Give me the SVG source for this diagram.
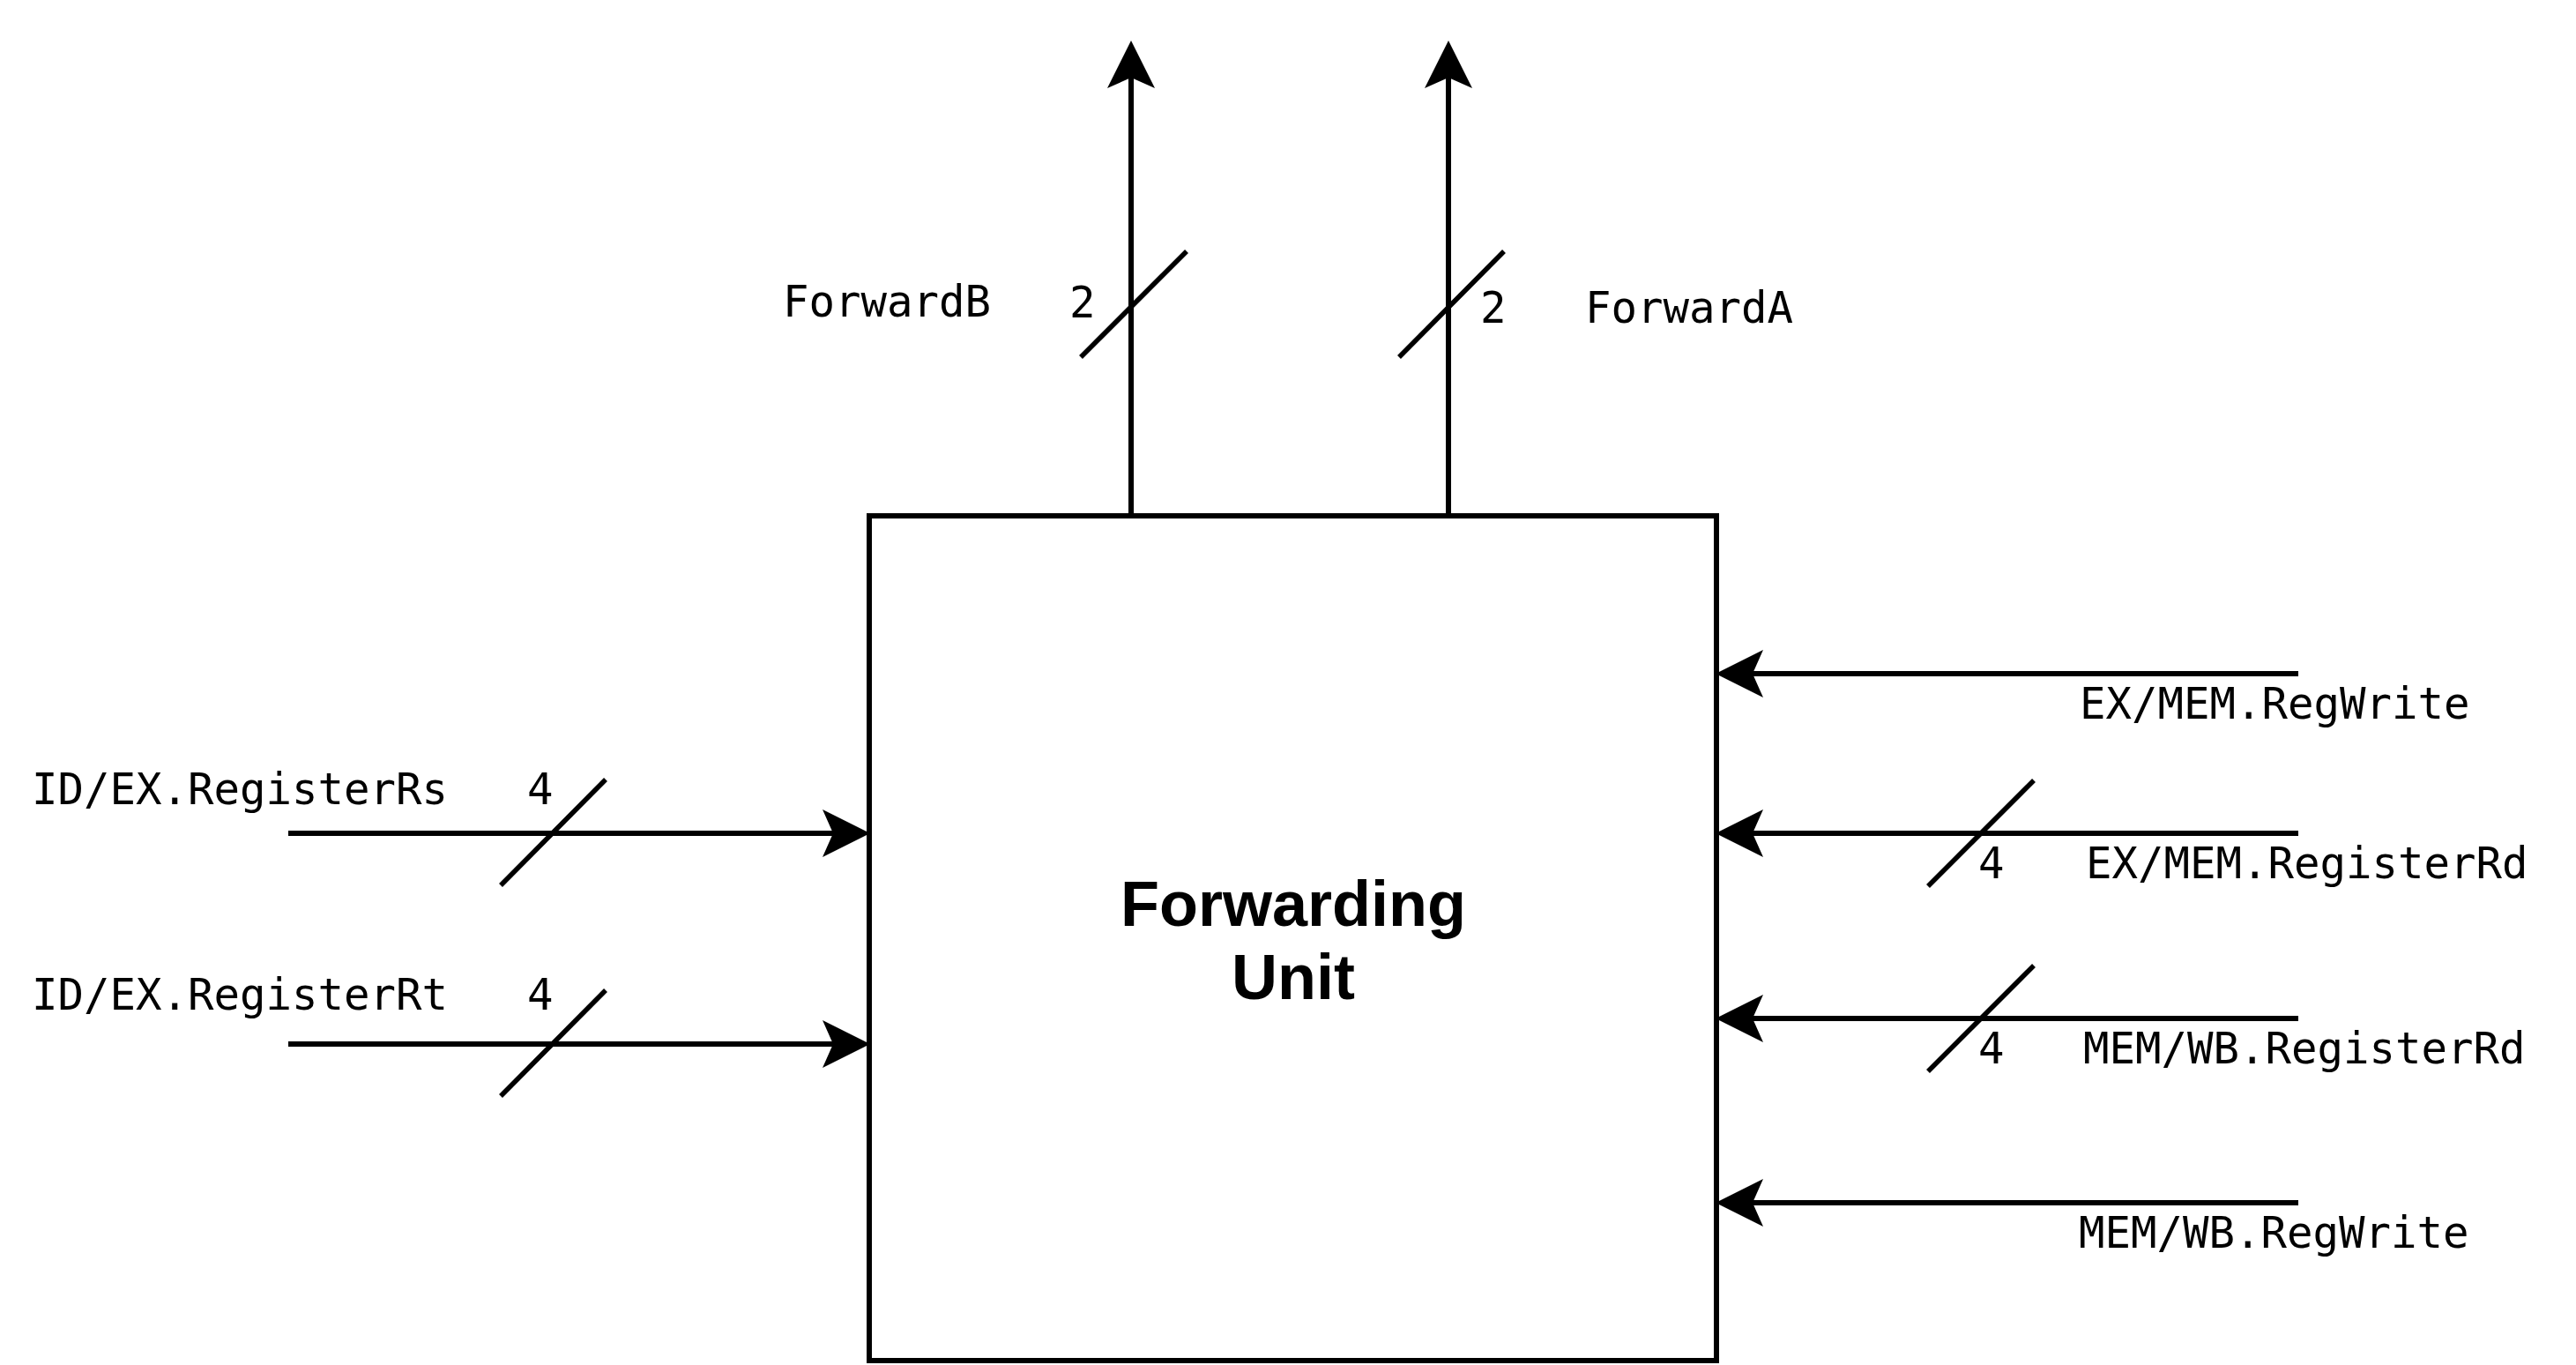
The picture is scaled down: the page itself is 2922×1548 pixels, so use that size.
<svg xmlns="http://www.w3.org/2000/svg" width="2922" height="1548" viewBox="0 0 2922 1548">
<style>
.wire{stroke:#000;stroke-width:6;fill:none}
.bus{stroke:#000;stroke-width:5.5;fill:none}
.lbl{font-family:"DejaVu Sans Mono","Liberation Mono",monospace;font-size:49px;fill:#000}
.title{font-family:"Liberation Sans",Arial,sans-serif;font-size:72px;font-weight:bold;fill:#000;text-anchor:middle}
</style>
<defs>
<marker id="ah" viewBox="-14 -30 60 60" markerWidth="60" markerHeight="60" refX="0" refY="0" markerUnits="userSpaceOnUse" orient="auto" overflow="visible">
<path d="M42,0 L-12,-27 L0,0 L-12,27 Z" fill="#000"/>
</marker>
</defs>
<rect width="2922" height="1548" fill="#fff"/>
<g id="forwarding-unit">
<rect x="986" y="585" width="961" height="958" fill="#fff" stroke="#000" stroke-width="6"/>
<text class="title" x="1467" y="1050">Forwarding</text>
<text class="title" x="1467" y="1133">Unit</text>
</g>
<g id="connectors">
<path class="wire" d="M1283,585 V88" marker-end="url(#ah)"/>
<path class="wire" d="M1643,585 V88" marker-end="url(#ah)"/>
<path class="wire" d="M327,945 H945" marker-end="url(#ah)"/>
<path class="wire" d="M327,1184 H945" marker-end="url(#ah)"/>
<path class="wire" d="M2607,764 H1988" marker-end="url(#ah)"/>
<path class="wire" d="M2607,945 H1988" marker-end="url(#ah)"/>
<path class="wire" d="M2607,1155 H1988" marker-end="url(#ah)"/>
<path class="wire" d="M2607,1364 H1988" marker-end="url(#ah)"/>
<g id="bus-slashes">
<line class="bus" x1="1226" y1="405" x2="1346" y2="285"/>
<line class="bus" x1="1587" y1="405" x2="1706" y2="285"/>
<line class="bus" x1="568" y1="1004" x2="687" y2="884"/>
<line class="bus" x1="568" y1="1243" x2="687" y2="1123"/>
<line class="bus" x1="2187" y1="1005" x2="2307" y2="885"/>
<line class="bus" x1="2187" y1="1215" x2="2307" y2="1095"/>
</g>
</g>
<g id="labels">
<text class="lbl" x="888" y="359">ForwardB</text>
<text class="lbl" x="1213" y="360">2</text>
<text class="lbl" x="1679" y="366">2</text>
<text class="lbl" x="1798" y="366">ForwardA</text>
<text class="lbl" x="36" y="912">ID/EX.RegisterRs</text>
<text class="lbl" x="598" y="912">4</text>
<text class="lbl" x="36" y="1145">ID/EX.RegisterRt</text>
<text class="lbl" x="598" y="1145">4</text>
<text class="lbl" x="2359" y="815">EX/MEM.RegWrite</text>
<text class="lbl" x="2244" y="996">4</text>
<text class="lbl" x="2366" y="996">EX/MEM.RegisterRd</text>
<text class="lbl" x="2244" y="1206">4</text>
<text class="lbl" x="2363" y="1206">MEM/WB.RegisterRd</text>
<text class="lbl" x="2358" y="1415">MEM/WB.RegWrite</text>
</g>
</svg>
